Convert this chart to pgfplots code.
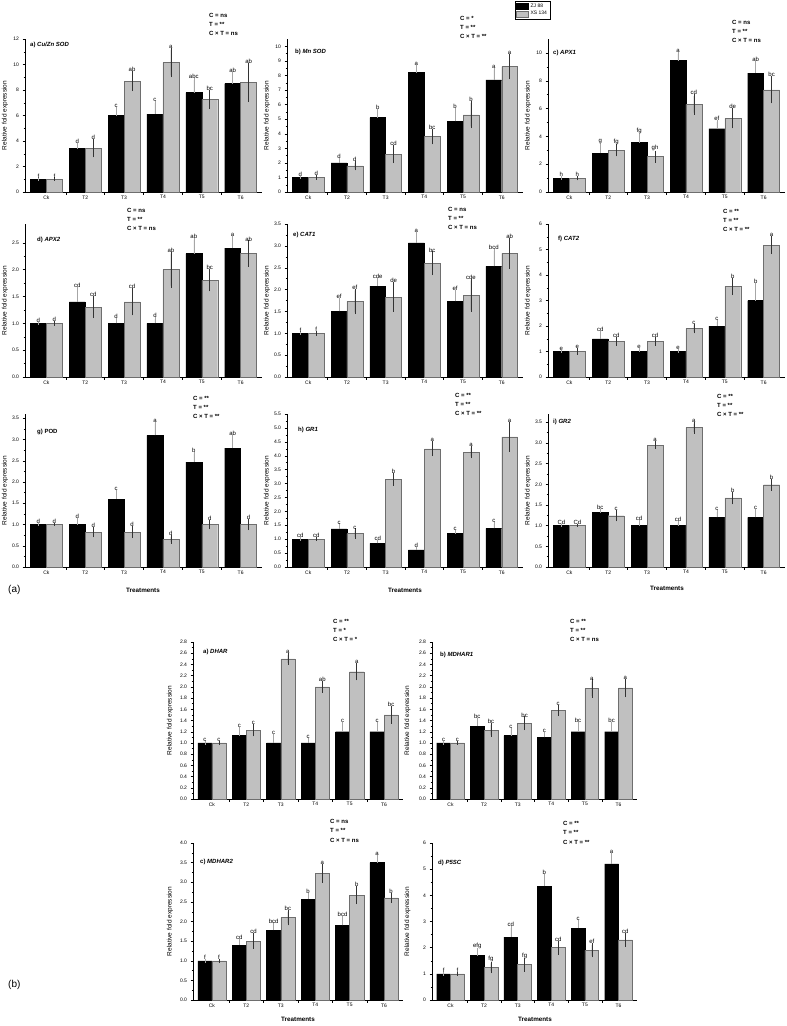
\documentclass[border=0pt]{standalone}
\usepackage{fontspec}
\setmainfont{Liberation Sans}
\usepackage{pgfplots}
\usepackage{pgfplotstable}
\pgfplotsset{compat=1.18}

\definecolor{barg}{RGB}{192,192,192}
\definecolor{barge}{RGB}{110,110,110}

% columns: x, ZJ 88 (b, err, letter), XS 134 (g, err, letter)
\pgfplotstableread{
x b be bl g ge gl
0 1.00 0.00 f 1.00 0.00 f
1 3.40 0.30 d 3.45 0.60 d
2 6.00 0.55 c 8.70 0.65 ab
3 6.10 0.90 c 10.15 1.00 a
4 7.80 1.00 abc 7.25 0.60 bc
5 8.50 0.80 ab 8.60 1.40 ab
}\tA
\pgfplotstableread{
x b be bl g ge gl
0 1.00 0.00 d 1.00 0.03 d
1 2.00 0.20 d 1.80 0.20 d
2 5.10 0.50 b 2.60 0.50 cd
3 8.20 0.40 a 3.80 0.40 bc
4 4.85 0.80 b 5.30 0.80 b
5 7.70 0.70 a 8.60 0.75 a
}\tB
\pgfplotstableread{
x b be bl g ge gl
0 1.00 0.00 h 1.00 0.03 h
1 2.80 0.60 g 3.00 0.30 fg
2 3.55 0.55 fg 2.55 0.30 gh
3 9.45 0.50 a 6.30 0.60 cd
4 4.55 0.50 ef 5.30 0.60 de
5 8.55 0.75 ab 7.35 0.85 bc
}\tC
\pgfplotstableread{
x b be bl g ge gl
0 1.00 0.00 d 1.00 0.01 d
1 1.40 0.24 cd 1.30 0.17 cd
2 1.00 0.06 d 1.40 0.22 cd
3 1.00 0.08 d 2.00 0.30 ab
4 2.30 0.26 ab 1.80 0.17 bc
5 2.40 0.20 a 2.30 0.21 ab
}\tD
\pgfplotstableread{
x b be bl g ge gl
0 1.00 0.00 f 1.00 0.01 f
1 1.50 0.27 ef 1.73 0.25 ef
2 2.08 0.15 cde 1.83 0.30 de
3 3.07 0.20 a 2.60 0.23 bc
4 1.73 0.21 ef 1.87 0.34 cde
5 2.53 0.36 bcd 2.83 0.32 ab
}\tE
\pgfplotstableread{
x b be bl g ge gl
0 1.00 0.00 e 1.00 0.05 e
1 1.50 0.22 cd 1.40 0.10 cd
2 1.00 0.07 e 1.40 0.10 cd
3 1.00 0.03 e 1.90 0.12 c
4 2.00 0.15 c 3.55 0.27 b
5 3.00 0.60 b 5.17 0.28 a
}\tF
\pgfplotstableread{
x b be bl g ge gl
0 1.00 0.00 d 1.00 0.00 d
1 1.00 0.12 d 0.82 0.08 d
2 1.60 0.18 c 0.82 0.10 d
3 3.10 0.28 a 0.65 0.06 d
4 2.47 0.20 b 1.00 0.07 d
5 2.80 0.26 ab 1.00 0.09 d
}\tG
\pgfplotstableread{
x b be bl g ge gl
0 1.00 0.00 cd 1.00 0.00 cd
1 1.37 0.13 c 1.20 0.12 c
2 0.85 0.06 cd 3.15 0.17 b
3 0.62 0.04 d 4.25 0.20 a
4 1.20 0.06 c 4.13 0.15 a
5 1.39 0.15 c 4.68 0.48 a
}\tH
\pgfplotstableread{
x b be bl g ge gl
0 1.00 0.00 Cd 1.00 0.00 Cd
1 1.33 0.03 bc 1.24 0.09 c
2 1.00 0.09 cd 2.95 0.05 a
3 1.00 0.08 cd 3.37 0.10 a
4 1.20 0.13 c 1.67 0.11 b
5 1.20 0.16 c 1.99 0.10 b
}\tI
\pgfplotstableread{
x b be bl g ge gl
0 1.00 0.00 c 1.00 0.00 c
1 1.13 0.12 c 1.23 0.08 c
2 1.00 0.12 c 2.50 0.07 a
3 1.00 0.05 c 2.00 0.07 ab
4 1.20 0.15 c 2.27 0.12 a
5 1.20 0.15 c 1.50 0.13 bc
}\tJ
\pgfplotstableread{
x b be bl g ge gl
0 1.00 0.00 c 1.00 0.00 c
1 1.30 0.12 bc 1.23 0.09 bc
2 1.13 0.11 c 1.35 0.09 bc
3 1.10 0.06 c 1.58 0.07 c
4 1.20 0.15 bc 1.97 0.13 a
5 1.20 0.15 bc 1.98 0.13 a
}\tK
\pgfplotstableread{
x b be bl g ge gl
0 1.00 0.00 f 1.00 0.00 f
1 1.40 0.10 cd 1.50 0.15 cd
2 1.78 0.15 bcd 2.10 0.15 bc
3 2.57 0.10 b 3.23 0.20 a
4 1.90 0.20 bcd 2.67 0.18 b
5 3.50 0.15 a 2.60 0.08 b
}\tL
\pgfplotstableread{
x b be bl g ge gl
0 1.00 0.00 f 1.00 0.00 f
1 1.70 0.20 efg 1.25 0.15 fg
2 2.40 0.35 cd 1.35 0.20 fg
3 4.35 0.40 b 2.00 0.20 cd
4 2.75 0.25 c 1.90 0.20 ef
5 5.20 0.35 a 2.30 0.20 cd
}\tM

\pgfplotsset{
  panel/.style={
    scale only axis, anchor=south west, ybar, bar width=0.41,
    xmin=-0.55, xmax=5.55, ymin=0,
    axis x line*=bottom, axis y line*=left,
    xtick={0.5,1.5,2.5,3.5,4.5}, xticklabels={},
    extra x ticks={0,1,2,3,4,5},
    extra x tick labels={Ck,T2,T3,T4,T5,T6},
    extra x tick style={major tick length=0pt},
    tick align=outside, major tick length=2.5pt, minor tick length=1.5pt,
    minor y tick num=1,
    tick style={black, line width=0.4pt},
    axis line style={black, line width=0.5pt},
    ticklabel style={font=\fontsize{5}{6}\selectfont},
    /pgf/number format/assume math mode=true,
    ylabel={Relative fold expression},
    ylabel style={font=\fontsize{6.5}{7}\selectfont, at={(axis description cs:-0.085,0.5)}, anchor=center},
    clip=false,
    every node near coord/.append style={font=\fontsize{6}{7}\selectfont, text=black, inner sep=1pt},
  },
  dec/.style={yticklabel style={/pgf/number format/fixed, /pgf/number format/fixed zerofill, /pgf/number format/precision=1}},
}

\newcommand{\bars}[1]{%
  \addplot[fill=black, draw=black, bar shift=-0.205,
    error bars/.cd, y dir=plus, y explicit,
    error bar style={gray!70, line width=0.5pt},
    error mark options={gray!70, mark size=1.8pt, line width=0.5pt}]
    table[x=x, y=b, y error=be] {#1};
  \addplot[fill=barg, draw=barge, bar shift=0.205,
    error bars/.cd, y dir=both, y explicit,
    error bar style={gray!40!black, line width=0.5pt},
    error mark options={gray!40!black, mark size=1.8pt, line width=0.5pt}]
    table[x=x, y=g, y error=ge] {#1};
  \addplot[draw=none, fill=none, bar shift=-0.205, forget plot,
    nodes near coords, point meta=explicit symbolic]
    table[x=x, y expr=\thisrow{b}+\thisrow{be}, meta=bl] {#1};
  \addplot[draw=none, fill=none, bar shift=0.205, forget plot,
    nodes near coords, point meta=explicit symbolic]
    table[x=x, y expr=\thisrow{g}+\thisrow{ge}, meta=gl] {#1};
}
\newcommand{\stats}[5]{\node[anchor=north west, align=left, inner sep=0pt,
  font=\fontsize{6}{9.3}\selectfont\bfseries] at (#1pt,-#2pt) {C = #3\\T = #4\\C × T = #5};}
\newcommand{\ttl}[4]{\node[anchor=west, inner sep=0pt,
  font=\fontsize{6}{7}\selectfont\bfseries] at (#1pt,-#2pt) {#3) \textit{#4}};}
\newcommand{\treat}[2]{\node[inner sep=0pt, font=\fontsize{6.3}{7}\selectfont\bfseries] at (#1pt,-#2pt) {Treatments};}

\begin{document}
\begin{tikzpicture}
\useasboundingbox (0,0) rectangle (787pt,-1026pt);

% ---------- (a) row 1
\begin{axis}[panel, at={(25pt,-192pt)}, width=237pt, height=153pt, ymax=12, ytick={0,2,...,12}]
\bars{\tA}
\end{axis}
\begin{axis}[panel, at={(287pt,-192pt)}, width=236pt, height=153pt, ymax=10.5, ytick={0,1,...,10},
  legend style={at={(0.966,1.25)}, anchor=north west, font=\fontsize{5}{6}\selectfont,
    draw=black, line width=0.4pt, inner sep=1pt, row sep=-1.5pt, legend cell align=left},
  legend image code/.code={\draw[#1] (0pt,-2.8pt) rectangle (12pt,2.8pt);}]
\addlegendimage{fill=black, draw=black}
\addlegendimage{fill=barg, draw=barge}
\bars{\tB}
\legend{ZJ 88, XS 134}
\end{axis}
\begin{axis}[panel, at={(548pt,-192pt)}, width=237pt, height=153pt, ymax=11, ytick={0,2,...,10}]
\bars{\tC}
\end{axis}

% ---------- (a) row 2
\begin{axis}[panel, dec, at={(25pt,-377pt)}, width=237pt, height=153pt, ymax=2.85, ytick={0,0.5,...,2.5}]
\bars{\tD}
\end{axis}
\begin{axis}[panel, dec, at={(287pt,-377pt)}, width=236pt, height=153pt, ymax=3.5, ytick={0,0.5,...,3.5}]
\bars{\tE}
\end{axis}
\begin{axis}[panel, at={(548pt,-377pt)}, width=237pt, height=153pt, ymax=6, ytick={0,1,...,6}]
\bars{\tF}
\end{axis}

% ---------- (a) row 3
\begin{axis}[panel, dec, at={(25pt,-567pt)}, width=237pt, height=153pt, ymax=3.6, ytick={0,0.5,...,3.5}]
\bars{\tG}
\end{axis}
\begin{axis}[panel, dec, at={(287pt,-567pt)}, width=236pt, height=153pt, ymax=5.5, ytick={0,0.5,...,5.5}]
\bars{\tH}
\end{axis}
\begin{axis}[panel, dec, at={(548pt,-567pt)}, width=237pt, height=153pt, ymax=3.7, ytick={0,0.5,...,3.5}]
\bars{\tI}
\end{axis}

% ---------- (b)
\begin{axis}[panel, dec, at={(193pt,-799pt)}, width=210pt, height=157pt, ymax=2.8, ytick={0,0.2,...,2.81},
  ylabel style={at={(axis description cs:-0.11,0.5)}}]
\bars{\tJ}
\end{axis}
\begin{axis}[panel, dec, at={(432pt,-799pt)}, width=205pt, height=157pt, ymax=2.8, ytick={0,0.2,...,2.81},
  ylabel style={at={(axis description cs:-0.12,0.5)}}]
\bars{\tK}
\end{axis}
\begin{axis}[panel, dec, at={(193pt,-1000pt)}, width=210pt, height=157pt, ymax=4, ytick={0,0.5,...,4},
  ylabel style={at={(axis description cs:-0.11,0.5)}}]
\bars{\tL}
\end{axis}
\begin{axis}[panel, at={(432pt,-1000pt)}, width=205pt, height=157pt, ymax=6, ytick={0,1,...,6},
  ylabel style={at={(axis description cs:-0.12,0.5)}}]
\bars{\tM}
\end{axis}

% ---------- panel titles
\ttl{30}{45}{a}{Cu/Zn SOD}
\ttl{295}{52}{b}{Mn SOD}
\ttl{553}{53}{c}{APX1}
\ttl{37}{240}{d}{APX2}
\ttl{293}{235}{e}{CAT1}
\ttl{558}{239}{f}{CAT2}
\node[anchor=west, inner sep=0pt, font=\fontsize{6}{7}\selectfont\bfseries] at (37pt,-432pt) {g) POD};
\ttl{298}{430}{h}{GR1}
\ttl{553}{422}{i}{GR2}
\ttl{203}{652}{a}{DHAR}
\ttl{440}{655}{b}{MDHAR1}
\ttl{200}{862}{c}{MDHAR2}
\ttl{438}{863}{d}{P5SC}

% ---------- ANOVA summaries
\stats{209}{13}{ns}{**}{ns}
\stats{460}{16}{*}{**}{**}
\stats{732}{20}{ns}{**}{ns}
\stats{127}{208}{ns}{**}{ns}
\stats{448}{207}{ns}{**}{ns}
\stats{723}{209}{**}{**}{**}
\stats{193}{396}{**}{**}{**}
\stats{455}{393}{**}{**}{**}
\stats{717}{394}{**}{**}{**}
\stats{333}{619}{**}{*}{*}
\stats{570}{619}{**}{**}{ns}
\stats{330}{819}{ns}{**}{ns}
\stats{563}{821}{**}{**}{**}

% ---------- axis titles and part labels
\treat{143}{590}
\treat{405}{590}
\treat{667}{588}
\treat{298}{1019}
\treat{535}{1019}
\node[anchor=west, inner sep=0pt, font=\fontsize{10}{12}\selectfont] at (8pt,-590pt) {(a)};
\node[anchor=west, inner sep=0pt, font=\fontsize{10}{12}\selectfont] at (8pt,-985pt) {(b)};
\end{tikzpicture}
\end{document}
